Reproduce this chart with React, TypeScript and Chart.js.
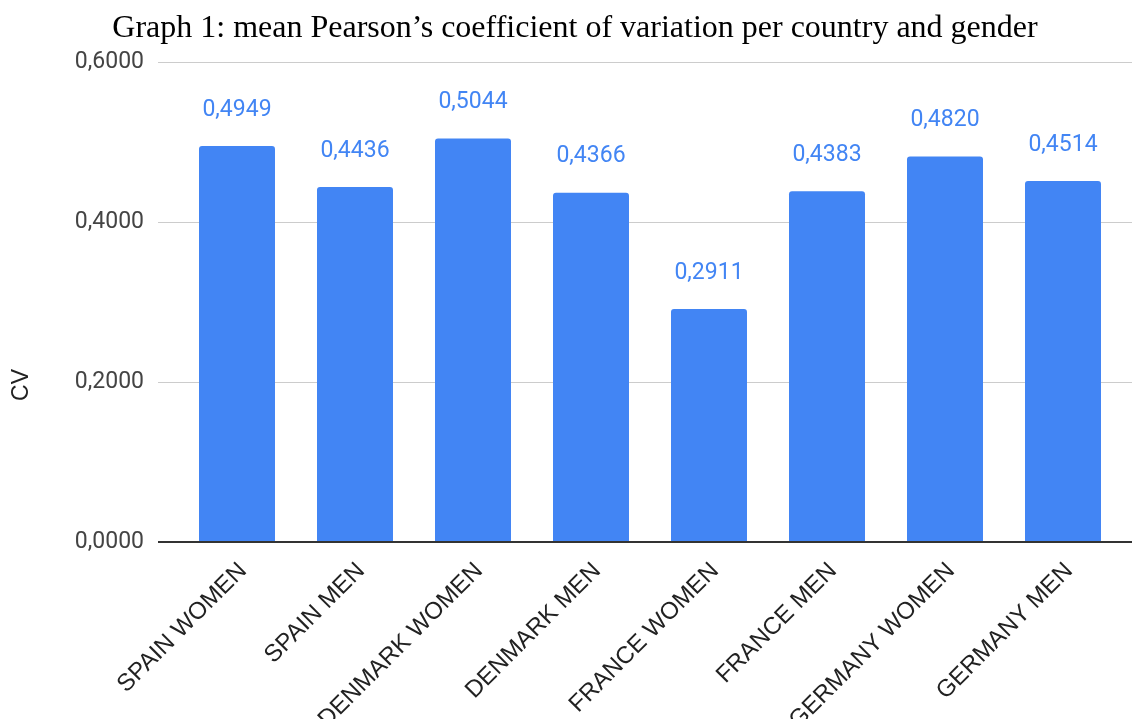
import React, { useEffect, useRef } from "react";
import { Chart, registerables } from "chart.js";

Chart.register(...registerables);

const titleText = "Graph 1: mean Pearson’s coefficient of variation per country and gender";
const yAxisTitle = "CV";
const categories = [
  "SPAIN WOMEN",
  "SPAIN MEN",
  "DENMARK WOMEN",
  "DENMARK MEN",
  "FRANCE WOMEN",
  "FRANCE MEN",
  "GERMANY WOMEN",
  "GERMANY MEN",
];
const cvValues = [0.4949, 0.4436, 0.5044, 0.4366, 0.2911, 0.4383, 0.482, 0.4514];
const yTicks = [0, 0.2, 0.4, 0.6];

const fmt = (v: number) => v.toFixed(4).replace(".", ",");

const BAR_COLOR = "#4285F4";

const decorPlugin = {
  id: "decor",
  beforeDatasetsDraw(chart: any) {
    const ctx = chart.ctx;
    const y = chart.scales.y;
    ctx.save();
    yTicks.forEach((t) => {
      if (t === 0) return;
      const py = Math.round(y.getPixelForValue(t)) + 0.5;
      ctx.beginPath();
      ctx.strokeStyle = "#cccccc";
      ctx.lineWidth = 1;
      ctx.moveTo(158, py);
      ctx.lineTo(1132, py);
      ctx.stroke();
    });
    ctx.restore();
  },
  afterDatasetsDraw(chart: any) {
    const ctx = chart.ctx;
    const y = chart.scales.y;
    ctx.save();
    const py0 = y.getPixelForValue(0);
    ctx.strokeStyle = "#333333";
    ctx.lineWidth = 2;
    ctx.beginPath();
    ctx.moveTo(158, py0);
    ctx.lineTo(1132, py0);
    ctx.stroke();
    const meta = chart.getDatasetMeta(0);
    ctx.fillStyle = BAR_COLOR;
    ctx.font = "23px Roboto";
    ctx.textAlign = "center";
    ctx.textBaseline = "middle";
    meta.data.forEach((el: any, i: number) => {
      ctx.fillText(fmt(cvValues[i]), el.x, el.y - 36);
    });
    ctx.fillStyle = "#000000";
    ctx.font = "32px 'Liberation Serif'";
    ctx.textAlign = "center";
    ctx.textBaseline = "alphabetic";
    ctx.fillText(titleText, 575, 37);
    ctx.translate(22, 385);
    ctx.rotate(-Math.PI / 2);
    ctx.fillStyle = "#222222";
    ctx.font = "23px 'Liberation Sans'";
    ctx.textAlign = "center";
    ctx.textBaseline = "middle";
    ctx.fillText(yAxisTitle, 0, 0);
    ctx.restore();
  },
};

export default function App() {
  const ref = useRef<HTMLCanvasElement>(null);
  useEffect(() => {
    if (!ref.current) return;
    const chart = new Chart(ref.current, {
      type: "bar",
      data: {
        labels: categories,
        datasets: [
          {
            data: cvValues,
            backgroundColor: BAR_COLOR,
            barPercentage: 0.644,
            categoryPercentage: 1,
            borderRadius: { topLeft: 3, topRight: 3, bottomLeft: 0, bottomRight: 0 },
            borderSkipped: "bottom",
          },
        ],
      },
      options: {
        animation: false,
        responsive: false,
        maintainAspectRatio: false,
        layout: { padding: { top: 62, right: 10, left: 0, bottom: 0 } },
        plugins: {
          legend: { display: false },
          tooltip: { enabled: false },
          title: { display: false },
        },
        scales: {
          x: {
            grid: { display: false, drawTicks: false },
            border: { display: false },
            ticks: {
              minRotation: 45,
              maxRotation: 45,
              autoSkip: false,
              padding: 15,
              labelOffset: 6,
              color: "#222222",
              font: { family: "'Liberation Sans'", size: 24 },
            },
            afterFit: (s: any) => {
              s.height = 177;
            },
          },
          y: {
            min: 0,
            max: 0.6,
            grid: { display: false, drawTicks: false },
            border: { display: false },
            afterBuildTicks: (s: any) => {
              s.ticks = yTicks.map((v) => ({ value: v }));
            },
            ticks: {
              padding: 34,
              color: "#444444",
              font: { family: "Roboto", size: 23 },
              callback: (v: any) => fmt(Number(v)),
            },
            afterFit: (s: any) => {
              s.width = 178;
            },
          },
        },
      },
      plugins: [decorPlugin],
    });
    return () => chart.destroy();
  }, []);
  return (
    <div style={{ position: "fixed", left: 0, top: 0, width: 1132, height: 719, background: "#fff" }}>
      <canvas ref={ref} width={1132} height={719} style={{ width: 1132, height: 719 }} />
    </div>
  );
}
